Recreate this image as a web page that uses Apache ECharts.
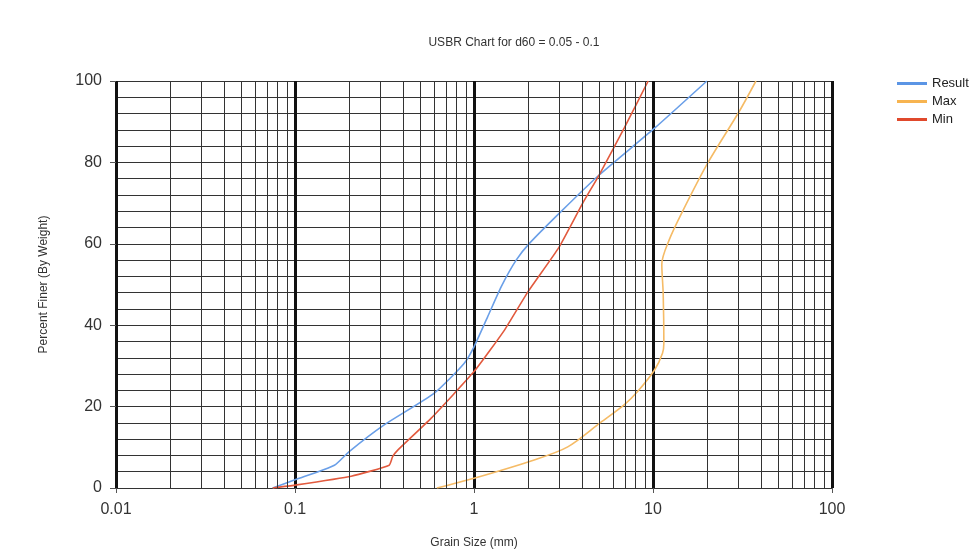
<!DOCTYPE html>
<html>
<head>
<meta charset="utf-8">
<script src="https://cdn.jsdelivr.net/npm/echarts@6/dist/echarts.min.js"></script>
<style>
  html, body { margin: 0; padding: 0; background: #fff; }
  #chart { width: 976px; height: 551px; }
</style>
</head>
<body>
<div id="chart"></div>
<script>
// grain size (mm) / percent finer
const resultX = [0.075, 0.1, 0.166, 0.2, 0.315, 0.6, 0.88, 1.0, 1.19, 1.42, 1.72, 2.04, 3.06, 5.0, 10.2, 20];
const resultY = [0, 2, 5.6, 8.9, 15.5, 23.3, 30.6, 34.7, 42, 49.5, 56, 60.1, 67.9, 76.9, 88.4, 100];

const maxX = [0.62, 1.0, 2.17, 3.34, 5.1, 6.9, 8.2, 10.2, 11.3, 11.5, 11.4, 11.2, 12.3, 14.6, 20.2, 30.3, 37.6];
const maxY = [0, 2.4, 6.9, 10.1, 16.1, 20.4, 23.7, 29, 33.1, 35.6, 47.8, 55, 60.9, 67.9, 79.8, 92.5, 100];

const minX = [0.075, 0.1, 0.206, 0.336, 0.351, 0.375, 0.575, 1.0, 1.48, 2.0, 2.97, 4.05, 5.0, 6.9, 9.4];
const minY = [0, 0.7, 2.9, 5.6, 7.7, 9.3, 17.1, 28.6, 38.8, 48.2, 59, 70, 76.9, 88.4, 100];

// minor vertical grid lines: 2..9 within each decade
const decades = [0.01, 0.1, 1, 10];
const multipliers = [2, 3, 4, 5, 6, 7, 8, 9];

const pairs = (xs, ys) => xs.map((x, i) => [x, ys[i]]);

const minorLines = [];
decades.forEach((d) => {
  multipliers.forEach((m) => minorLines.push({ xAxis: +(d * m).toPrecision(3) }));
});

const FONT = "Liberation Sans";
const chart = echarts.init(document.getElementById("chart"));

const option = {
  animation: false,
  textStyle: { fontFamily: FONT },
  title: {
    text: "USBR Chart for d60 = 0.05 - 0.1",
    left: 509,
    top: 32,
    textAlign: "center",
    textStyle: { fontSize: 12, fontWeight: "normal", color: "#333", fontFamily: FONT },
  },
  legend: {
    orient: "vertical",
    left: 892,
    top: 72,
    itemWidth: 30,
    itemHeight: 3,
    itemGap: 5,
    icon: "rect",
    data: ["Result", "Max", "Min"],
    textStyle: { fontSize: 13, color: "#222", padding: [0, 0, 0, 0] },
  },
  grid: { left: 116, right: 144, top: 81, bottom: 63, outerBoundsMode: "none" },
  xAxis: {
    type: "log",
    logBase: 10,
    min: 0.01,
    max: 100,
    name: "Grain Size (mm)",
    nameLocation: "middle",
    nameGap: 49,
    nameTextStyle: { fontSize: 12, color: "#333" },
    axisLine: { show: true, lineStyle: { color: "#333", width: 1 } },
    axisTick: { show: true, length: 5, lineStyle: { color: "#555" } },
    axisLabel: {
      fontSize: 16,
      color: "#333",
      margin: 14,
      formatter: (v) => String(+v.toPrecision(3)),
    },
    splitLine: { show: true, lineStyle: { color: "#111", width: 3 } },
  },
  yAxis: {
    type: "value",
    min: 0,
    max: 100,
    interval: 20,
    name: "Percent Finer (By Weight)",
    nameLocation: "middle",
    nameGap: 66,
    nameTextStyle: { fontSize: 12, color: "#333" },
    axisLine: { show: false },
    axisTick: { show: true, length: 6, lineStyle: { color: "#555" } },
    axisLabel: { fontSize: 16, color: "#333", margin: 14 },
    splitLine: { show: true, lineStyle: { color: "#333", width: 1 } },
    minorTick: { show: false, splitNumber: 5 },
    minorSplitLine: { show: true, lineStyle: { color: "#333", width: 1 } },
  },
  series: [
    {
      name: "gridlines",
      type: "line",
      data: [],
      z: 1,
      silent: true,
      markLine: {
        silent: true,
        symbol: ["none", "none"],
        label: { show: false },
        lineStyle: { color: "#333", width: 1, type: "solid" },
        emphasis: { disabled: true },
        data: minorLines,
      },
    },
    {
      name: "Result",
      type: "line",
      data: pairs(resultX, resultY),
      showSymbol: false,
      smooth: 0.2,
      z: 3,
      color: "#5b95e5",
      lineStyle: { width: 1.6, color: "#6a9fe8" },
    },
    {
      name: "Max",
      type: "line",
      data: pairs(maxX, maxY),
      showSymbol: false,
      smooth: 0.3,
      z: 3,
      color: "#f7b450",
      lineStyle: { width: 1.6, color: "#f5bb66" },
    },
    {
      name: "Min",
      type: "line",
      data: pairs(minX, minY),
      showSymbol: false,
      smooth: 0.15,
      z: 3,
      color: "#e0492c",
      lineStyle: { width: 1.6, color: "#e25a3e" },
    },
  ],
};

chart.setOption(option);
</script>
</body>
</html>
